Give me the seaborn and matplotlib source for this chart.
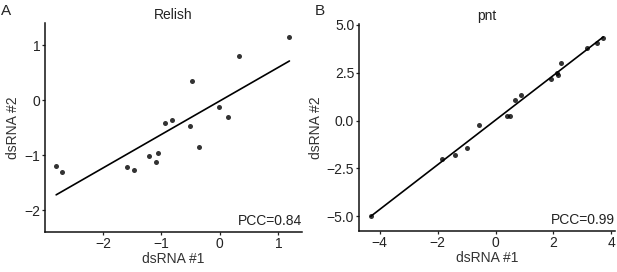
import seaborn as sns
import matplotlib.pyplot as plt
import pandas as pd

# Relish panel
relish_x = [-2.80, -2.70, -1.59, -1.46, -1.21, -1.09, -1.05, -0.94, -0.81, -0.51,
            -0.47, -0.35, -0.02, 0.14, 0.33, 1.19]
relish_y = [-1.20, -1.31, -1.21, -1.27, -1.02, -1.12, -0.96, -0.41, -0.36, -0.47,
            0.34, -0.85, -0.13, -0.31, 0.80, 1.14]

# pnt panel
pnt_x = [-4.31, -1.86, -1.40, -0.99, -0.56, 0.41, 0.50, 0.67, 0.88, 1.92,
         2.11, 2.16, 2.26, 3.15, 3.50, 3.72]
pnt_y = [-4.98, -1.99, -1.79, -1.45, -0.21, 0.26, 0.26, 1.06, 1.32, 2.18,
         2.47, 2.37, 3.00, 3.78, 4.06, 4.30]

sns.set_style("ticks")
plt.rcParams['font.family'] = ['Liberation Sans', 'DejaVu Sans']

fig = plt.figure(figsize=(6.17, 2.72), dpi=100)
ax1 = fig.add_axes([0.073, 0.148, 0.416, 0.767])
ax2 = fig.add_axes([0.582, 0.152, 0.415, 0.760])

def panel(ax, x, y, title, pcc, xlim, ylim, xticks, yticks, yticklabels):
    df = pd.DataFrame({'x': x, 'y': y})
    sns.regplot(data=df, x='x', y='y', ax=ax, ci=None, truncate=True,
                scatter_kws={'s': 13, 'color': 'black', 'linewidths': 0},
                line_kws={'color': 'black', 'linewidth': 1.2})
    ax.set_xlim(*xlim)
    ax.set_ylim(*ylim)
    ax.set_xticks(xticks)
    ax.set_yticks(yticks)
    ax.set_yticklabels(yticklabels)
    ax.set_xlabel('dsRNA #1', fontsize=10, color='#333333', labelpad=1)
    ax.set_ylabel('dsRNA #2', fontsize=10, color='#333333', labelpad=3)
    ax.set_title(title, fontsize=10, pad=3, color='#222222')
    ax.tick_params(labelsize=10, length=2, width=0.9, pad=1.5, colors='#222222')
    for s in ['left', 'bottom']:
        ax.spines[s].set_linewidth(1.1)
        ax.spines[s].set_color('#111111')
    sns.despine(ax=ax)
    ax.text(1.0, 0.02, f'PCC={pcc}', transform=ax.transAxes,
            ha='right', va='bottom', fontsize=10, color='#222222')

panel(ax1, relish_x, relish_y, 'Relish', '0.84', (-2.99, 1.40), (-2.39, 1.40),
      [-2, -1, 0, 1], [-2, -1, 0, 1], ['\u22122', '\u22121', '0', '1'])
panel(ax2, pnt_x, pnt_y, 'pnt', '0.99', (-4.71, 4.13), (-5.75, 5.05),
      [-4, -2, 0, 2, 4], [-5.0, -2.5, 0.0, 2.5, 5.0],
      ['\u22125.0', '\u22122.5', '0.0', '2.5', '5.0'])

fig.text(0.002, 0.985, 'A', fontsize=11, ha='left', va='top')
fig.text(0.51, 0.985, 'B', fontsize=11, ha='left', va='top')

fig.savefig('out.png', dpi=100)
